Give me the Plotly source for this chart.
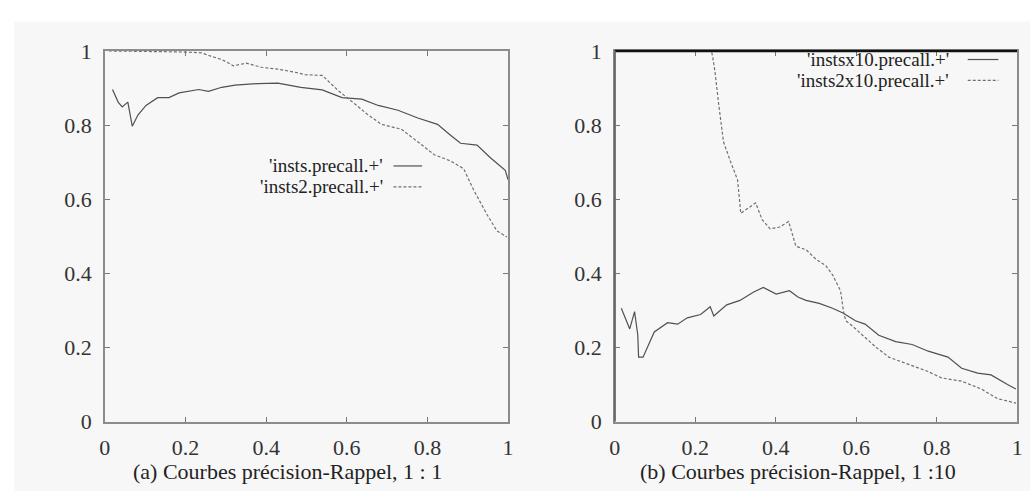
import plotly.graph_objects as go

# ---------------- data ----------------
tick_vals = [0, 0.2, 0.4, 0.6, 0.8, 1]
tick_text = ["0", "0.2", "0.4", "0.6", "0.8", "1"]

# Panel (a) 1:1
insts_recall = [0.019, 0.033, 0.043, 0.057, 0.068, 0.082, 0.102, 0.131, 0.159, 0.184, 0.233, 0.257,
                0.29, 0.323, 0.38, 0.429, 0.486, 0.539, 0.588, 0.637, 0.678, 0.727, 0.776, 0.825,
                0.858, 0.882, 0.923, 0.956, 0.993, 1.0]
insts_prec = [0.896, 0.862, 0.849, 0.862, 0.797, 0.827, 0.853, 0.874, 0.874, 0.887, 0.896, 0.891,
              0.902, 0.908, 0.912, 0.913, 0.902, 0.895, 0.874, 0.87, 0.853, 0.84, 0.819, 0.802,
              0.772, 0.751, 0.746, 0.712, 0.678, 0.652]

insts2_recall = [0.01, 0.05, 0.1, 0.15, 0.2, 0.24, 0.265, 0.29, 0.319, 0.351, 0.388, 0.429, 0.47,
                 0.497, 0.539, 0.58, 0.62, 0.65, 0.686, 0.735, 0.776, 0.817, 0.858, 0.89, 0.914,
                 0.948, 0.972, 0.997]
insts2_prec = [1.0, 1.0, 1.0, 0.998, 0.997, 0.995, 0.985, 0.977, 0.96, 0.967, 0.956, 0.951, 0.943,
               0.936, 0.934, 0.892, 0.857, 0.83, 0.802, 0.789, 0.755, 0.72, 0.703, 0.682, 0.626,
               0.558, 0.515, 0.498]

# Panel (b) 1:10
instsx10_recall = [0.016, 0.037, 0.049, 0.057, 0.059, 0.07, 0.098, 0.131, 0.156, 0.18, 0.213, 0.237,
                   0.246, 0.278, 0.311, 0.344, 0.369, 0.401, 0.434, 0.455, 0.475, 0.508, 0.541, 0.567,
                   0.598, 0.622, 0.656, 0.698, 0.739, 0.779, 0.828, 0.862, 0.902, 0.935, 0.976, 0.997]
instsx10_prec = [0.306, 0.25, 0.297, 0.233, 0.174, 0.174, 0.242, 0.267, 0.263, 0.28, 0.289, 0.31,
                 0.285, 0.315, 0.327, 0.349, 0.362, 0.344, 0.353, 0.336, 0.327, 0.319, 0.306, 0.293,
                 0.272, 0.263, 0.233, 0.216, 0.208, 0.19, 0.174, 0.144, 0.131, 0.126, 0.1, 0.088]

insts2x10_recall = [0.02, 0.08, 0.15, 0.2, 0.24, 0.243, 0.249, 0.258, 0.27, 0.287, 0.305, 0.313, 0.33,
                    0.35, 0.366, 0.386, 0.41, 0.432, 0.45, 0.475, 0.5, 0.524, 0.541, 0.561, 0.569,
                    0.574, 0.583, 0.616, 0.65, 0.681, 0.739, 0.779, 0.812, 0.862, 0.911, 0.951, 0.997]
insts2x10_prec = [1.0, 1.0, 1.0, 1.0, 1.0, 0.985, 0.943, 0.857, 0.755, 0.703, 0.652, 0.562, 0.575,
                  0.59, 0.545, 0.52, 0.525, 0.54, 0.473, 0.464, 0.438, 0.421, 0.396, 0.353, 0.293,
                  0.272, 0.265, 0.233, 0.2, 0.174, 0.152, 0.135, 0.118, 0.109, 0.088, 0.062, 0.05]

legend_a = ["'insts.precall.+'", "'insts2.precall.+'"]
legend_b = ["'instsx10.precall.+'", "'insts2x10.precall.+'"]
captions = ["(a) Courbes précision-Rappel, 1 : 1", "(b) Courbes précision-Rappel, 1 :10"]

# ---------------- figure ----------------
W, H = 1036, 504
FONT = "Liberation Serif"
SOLID_C = "#505050"
DASH_C = "#707070"


def px_x(p):
    return p / W


def px_y(p):
    return 1 - p / H


fig = go.Figure()

fig.add_trace(go.Scatter(x=insts_recall, y=insts_prec, mode="lines", name=legend_a[0],
                         line=dict(color=SOLID_C, width=1.2), xaxis="x", yaxis="y"))
fig.add_trace(go.Scatter(x=insts2_recall, y=insts2_prec, mode="lines", name=legend_a[1],
                         line=dict(color=DASH_C, width=1.2, dash="3px,2px"), xaxis="x", yaxis="y"))
fig.add_trace(go.Scatter(x=instsx10_recall, y=instsx10_prec, mode="lines", name=legend_b[0],
                         line=dict(color=SOLID_C, width=1.2), xaxis="x2", yaxis="y2"))
fig.add_trace(go.Scatter(x=insts2x10_recall, y=insts2x10_prec, mode="lines", name=legend_b[1],
                         line=dict(color=DASH_C, width=1.2, dash="3px,2px"), xaxis="x2", yaxis="y2"))

axis_common = dict(
    range=[0, 1], tickvals=tick_vals, ticktext=tick_text, ticks="inside", ticklen=5,
    tickcolor="#777", tickwidth=1, showline=True, mirror="ticks", linecolor="#8c8c8c",
    linewidth=1.5, showgrid=False, zeroline=False,
    tickfont=dict(family=FONT, size=22, color="#333"),
)

y_dom = [px_y(431), px_y(41)]
fig.update_layout(
    width=W, height=H,
    margin=dict(l=0, r=0, t=0, b=0),
    paper_bgcolor="white",
    plot_bgcolor="rgba(0,0,0,0)",
    showlegend=False,
    xaxis=dict(domain=[px_x(100), px_x(508)], anchor="y", ticklabelstandoff=5, **axis_common),
    yaxis=dict(domain=y_dom, anchor="x", ticklabelstandoff=7, **axis_common),
    xaxis2=dict(domain=[px_x(616), px_x(1023)], anchor="y2", ticklabelstandoff=5, **axis_common),
    yaxis2=dict(domain=y_dom, anchor="x2", ticklabelstandoff=7, **axis_common),
)

shapes = [
    # light gray page background
    dict(type="rect", xref="paper", yref="paper", x0=px_x(8), x1=1, y0=0, y1=px_y(10),
         fillcolor="#f7f7f7", line=dict(width=0), layer="below"),
    # thick top border on panel (b)
    dict(type="line", xref="x2 domain", yref="y2 domain", x0=0, x1=1, y0=1, y1=1,
         line=dict(color="#111", width=2.5)),
    dict(type="line", xref="x2 domain", yref="y2 domain", x0=0, x1=0, y0=0, y1=1,
         line=dict(color="#666", width=2)),
]

annotations = []
rows_a = [162, 184]
rows_b = [50, 72]
for i, (txt, yy) in enumerate(zip(legend_a, rows_a)):
    annotations.append(dict(xref="paper", yref="paper", x=px_x(382), y=px_y(yy), text=txt,
                            showarrow=False, xanchor="right", yanchor="middle", borderpad=0,
                            font=dict(family=FONT, size=19, color="#222")))
    shapes.append(dict(type="line", xref="paper", yref="paper", x0=px_x(392), x1=px_x(421),
                       y0=px_y(yy), y1=px_y(yy),
                       line=dict(color=SOLID_C if i == 0 else DASH_C, width=1.2,
                                 dash="solid" if i == 0 else "3px,2px")))
for i, (txt, yy) in enumerate(zip(legend_b, rows_b)):
    annotations.append(dict(xref="paper", yref="paper", x=px_x(955), y=px_y(yy), text=txt,
                            showarrow=False, xanchor="right", yanchor="middle", borderpad=0,
                            font=dict(family=FONT, size=19, color="#222")))
    shapes.append(dict(type="line", xref="paper", yref="paper", x0=px_x(973), x1=px_x(1004),
                       y0=px_y(yy), y1=px_y(yy),
                       line=dict(color=SOLID_C if i == 0 else DASH_C, width=1.2,
                                 dash="solid" if i == 0 else "3px,2px")))

# captions
for cx, txt in zip([285, 801], captions):
    annotations.append(dict(xref="paper", yref="paper", x=px_x(cx), y=px_y(484), text=txt,
                            showarrow=False, xanchor="center", yanchor="middle",
                            font=dict(family=FONT, size=22, color="#222")))

fig.update_layout(shapes=shapes, annotations=annotations)

fig.write_html("out.html")
